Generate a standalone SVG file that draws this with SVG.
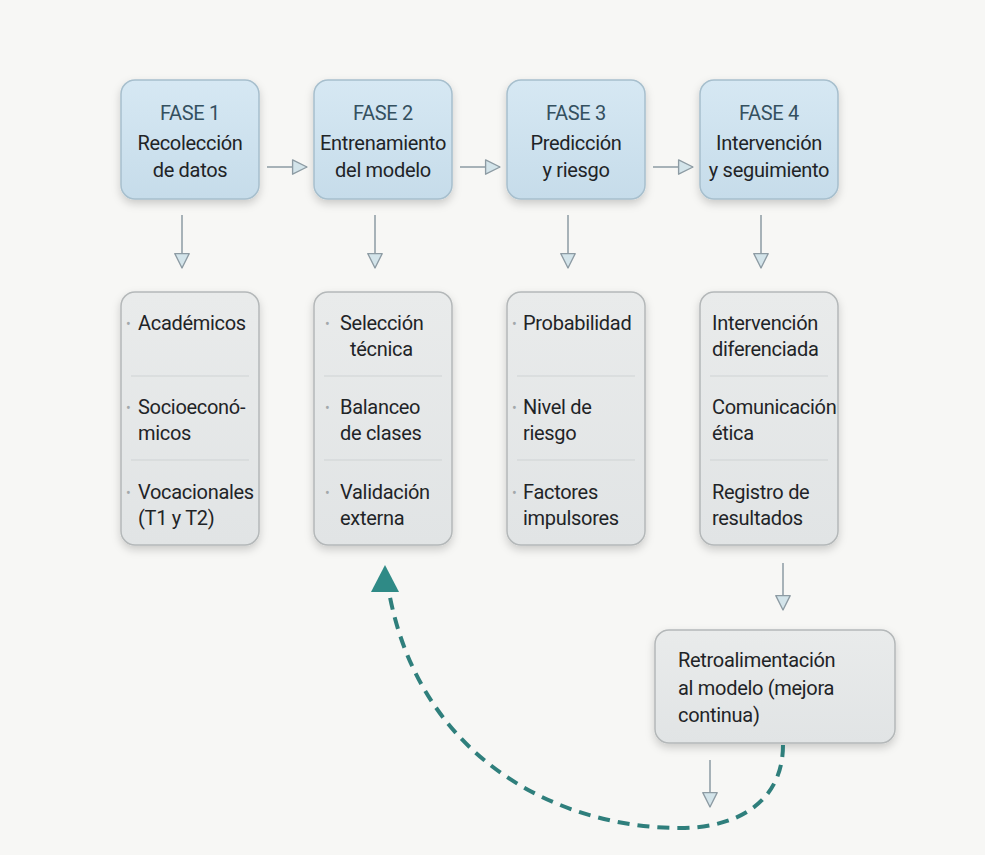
<svg xmlns="http://www.w3.org/2000/svg" width="985" height="855" viewBox="0 0 985 855">
<defs>
  <linearGradient id="gBlue" x1="0" y1="0" x2="0" y2="1">
    <stop offset="0" stop-color="#d6e8f3"/>
    <stop offset="1" stop-color="#c6dcea"/>
  </linearGradient>
  <linearGradient id="gGray" x1="0" y1="0" x2="0" y2="1">
    <stop offset="0" stop-color="#e9ebeb"/>
    <stop offset="1" stop-color="#e1e4e5"/>
  </linearGradient>
  <filter id="shadow" x="-20%" y="-20%" width="140%" height="140%">
    <feDropShadow dx="0" dy="4" stdDeviation="4" flood-color="#000" flood-opacity="0.18"/>
  </filter>
  <marker id="openHead" viewBox="0 0 20 20" refX="18" refY="10" markerWidth="18" markerHeight="18" markerUnits="userSpaceOnUse" orient="auto">
    <path d="M2,2 L18,10 L2,18 Z" fill="#d3e4ea" stroke="#8d9ba3" stroke-width="1.5" stroke-linejoin="round"/>
  </marker>
</defs>
<style>
  .phase { fill: url(#gBlue); stroke: #a7bfcd; stroke-width: 1.5; filter: url(#shadow); }
  .list { fill: url(#gGray); stroke: #b4b8b9; stroke-width: 1.5; filter: url(#shadow); }
  .t { font-family: Roboto, "Liberation Sans", sans-serif; font-size: 20px; letter-spacing: -0.3px; fill: #1f2427; }
  .fase { font-family: Roboto, "Liberation Sans", sans-serif; font-size: 20px; letter-spacing: -0.3px; fill: #34505f; }
  .c { text-anchor: middle; }
  .bul { font-family: Roboto, "Liberation Sans", sans-serif; font-size: 14px; fill: #a3a8ab; }
  .div { stroke: #cfd3d4; stroke-width: 1; }
  .arr { stroke: #8d9ba3; stroke-width: 1.5; fill: none; marker-end: url(#openHead); }
  .dash { stroke: #2f7f7c; stroke-width: 4; fill: none; stroke-dasharray: 12 8; }
</style>
<rect width="985" height="855" fill="#f7f7f5"/>

<g id="fase1">
  <rect class="phase" x="121" y="80" width="138" height="119" rx="14"/>
  <text class="fase c" x="190" y="120">FASE 1</text>
  <text class="t c" x="190" y="150">Recolección</text>
  <text class="t c" x="190" y="177">de datos</text>
</g>
<g id="fase2">
  <rect class="phase" x="314" y="80" width="138" height="119" rx="14"/>
  <text class="fase c" x="383" y="120">FASE 2</text>
  <text class="t c" x="383" y="150">Entrenamiento</text>
  <text class="t c" x="383" y="177">del modelo</text>
</g>
<g id="fase3">
  <rect class="phase" x="507" y="80" width="138" height="119" rx="14"/>
  <text class="fase c" x="576" y="120">FASE 3</text>
  <text class="t c" x="576" y="150">Predicción</text>
  <text class="t c" x="576" y="177">y riesgo</text>
</g>
<g id="fase4">
  <rect class="phase" x="700" y="80" width="138" height="119" rx="14"/>
  <text class="fase c" x="769" y="120">FASE 4</text>
  <text class="t c" x="769" y="150">Intervención</text>
  <text class="t c" x="769" y="177">y seguimiento</text>
</g>

<g id="lista1">
  <rect class="list" x="121" y="292" width="138" height="253" rx="14"/>
  <line class="div" x1="131" y1="376" x2="249" y2="376"/>
  <line class="div" x1="131" y1="460" x2="249" y2="460"/>
  <text class="bul" x="126" y="329">•</text>
  <text class="t" x="138" y="330">Académicos</text>
  <text class="bul" x="126" y="413">•</text>
  <text class="t" x="138" y="414">Socioeconó-</text>
  <text class="t" x="138" y="440">micos</text>
  <text class="bul" x="126" y="498">•</text>
  <text class="t" x="138" y="499">Vocacionales</text>
  <text class="t" x="138" y="525">(T1 y T2)</text>
</g>
<g id="lista2">
  <rect class="list" x="314" y="292" width="138" height="253" rx="14"/>
  <line class="div" x1="324" y1="376" x2="442" y2="376"/>
  <line class="div" x1="324" y1="460" x2="442" y2="460"/>
  <text class="bul" x="325" y="329">•</text>
  <text class="t" x="340" y="330">Selección</text>
  <text class="t" x="350" y="356">técnica</text>
  <text class="bul" x="325" y="413">•</text>
  <text class="t" x="340" y="414">Balanceo</text>
  <text class="t" x="340" y="440">de clases</text>
  <text class="bul" x="325" y="498">•</text>
  <text class="t" x="340" y="499">Validación</text>
  <text class="t" x="340" y="525">externa</text>
</g>
<g id="lista3">
  <rect class="list" x="507" y="292" width="138" height="253" rx="14"/>
  <line class="div" x1="517" y1="376" x2="635" y2="376"/>
  <line class="div" x1="517" y1="460" x2="635" y2="460"/>
  <text class="bul" x="512" y="329">•</text>
  <text class="t" x="523" y="330">Probabilidad</text>
  <text class="bul" x="512" y="413">•</text>
  <text class="t" x="523" y="414">Nivel de</text>
  <text class="t" x="523" y="440">riesgo</text>
  <text class="bul" x="512" y="498">•</text>
  <text class="t" x="523" y="499">Factores</text>
  <text class="t" x="523" y="525">impulsores</text>
</g>
<g id="lista4">
  <rect class="list" x="700" y="292" width="138" height="253" rx="14"/>
  <line class="div" x1="710" y1="376" x2="828" y2="376"/>
  <line class="div" x1="710" y1="460" x2="828" y2="460"/>
  <text class="t" x="712" y="330">Intervención</text>
  <text class="t" x="712" y="356">diferenciada</text>
  <text class="t" x="712" y="414">Comunicación</text>
  <text class="t" x="712" y="440">ética</text>
  <text class="t" x="712" y="499">Registro de</text>
  <text class="t" x="712" y="525">resultados</text>
</g>

<g id="retro">
  <rect class="list" x="655" y="630" width="240" height="113" rx="14"/>
  <text class="t" x="678" y="667">Retroalimentación</text>
  <text class="t" x="678" y="695">al modelo (mejora</text>
  <text class="t" x="678" y="722">continua)</text>
</g>

<g id="connectors">
  <line class="arr" x1="267" y1="167" x2="307" y2="167"/>
  <line class="arr" x1="460" y1="167" x2="500" y2="167"/>
  <line class="arr" x1="653" y1="167" x2="693" y2="167"/>
  <line class="arr" x1="182" y1="215" x2="182" y2="268"/>
  <line class="arr" x1="375" y1="215" x2="375" y2="268"/>
  <line class="arr" x1="568" y1="215" x2="568" y2="268"/>
  <line class="arr" x1="761" y1="215" x2="761" y2="268"/>
  <line class="arr" x1="783" y1="563" x2="783" y2="610"/>
  <line class="arr" x1="710" y1="760" x2="710" y2="807"/>
  <path class="dash" d="M783,745 C783,800 740,828 680,828 C560,828 420,760 389,592"/>
  <path d="M371,592 L385,565 L399,592 Z" fill="#2f8a86"/>
</g>
</svg>
